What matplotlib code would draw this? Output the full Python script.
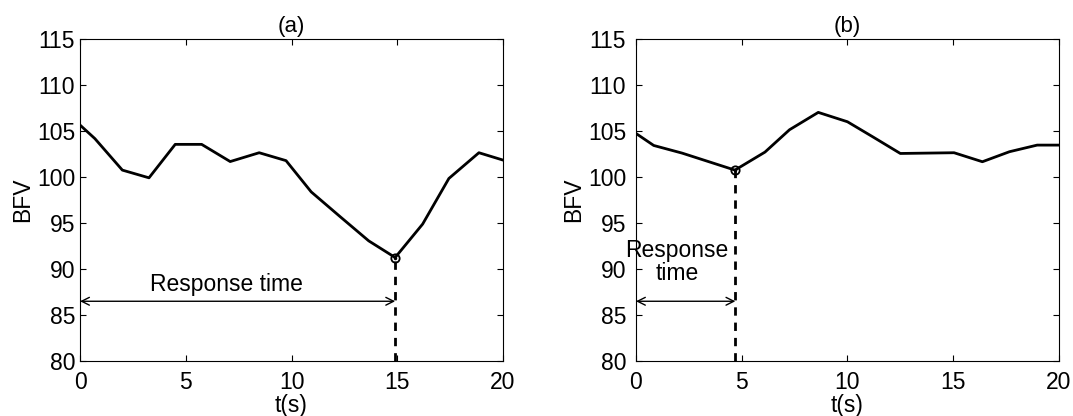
import matplotlib
matplotlib.use("Agg")
import matplotlib.pyplot as plt

plt.rcParams['font.family'] = ['Liberation Sans', 'DejaVu Sans']

# panel (a) data
t_a = [0, 0.7, 2.0, 3.26, 4.5, 5.75, 7.1, 8.47, 9.74, 10.93, 12.3, 13.65, 14.9,
       16.2, 17.44, 18.86, 20]
bfv_a = [105.67, 104.2, 100.77, 99.93, 103.57, 103.57, 101.7, 102.66, 101.8, 98.4,
         95.7, 93.07, 91.26, 94.9, 99.86, 102.66, 101.86]
resp_a = 14.9
resp_val_a = 91.26

# panel (b) data
t_b = [0, 0.84, 2.18, 4.68, 6.1, 7.26, 8.62, 10.0, 11.19, 12.5, 15.04, 16.38,
       17.66, 18.97, 20]
bfv_b = [104.76, 103.45, 102.62, 100.77, 102.73, 105.16, 107.05, 106.03, 104.4,
         102.58, 102.66, 101.68, 102.77, 103.49, 103.49]
resp_b = 4.7
resp_val_b = 100.8

arrow_y = 86.5

fig = plt.figure(figsize=(10.73, 4.16), dpi=100)
ax1 = fig.add_axes([0.0746, 0.1322, 0.3942, 0.7733])
ax2 = fig.add_axes([0.5927, 0.1322, 0.3942, 0.7733])


def draw_panel(ax, t, v, rt, rv, title, ypad):
    ax.plot(t, v, color='black', lw=2)
    ax.plot([rt, rt], [80, rv], color='black', lw=2, ls=(0, (3, 2.5)))
    ax.plot([rt], [rv], marker='o', ms=6, mfc='none', mec='black', mew=1.3)
    ax.plot([rt], [rv], marker='.', ms=3, color='black')
    ax.annotate('', xy=(rt, arrow_y), xytext=(0, arrow_y),
                arrowprops=dict(arrowstyle='<->', color='black', lw=1,
                                shrinkA=0, shrinkB=0, mutation_scale=14))
    ax.set_xlim(0, 20)
    ax.set_ylim(80, 115)
    ax.set_xticks([0, 5, 10, 15, 20])
    ax.set_yticks(range(80, 116, 5))
    ax.tick_params(direction='in', top=True, right=True, labelsize=16.5, length=4)
    ax.tick_params(axis='x', pad=7)
    ax.tick_params(axis='y', pad=ypad)
    ax.set_xlabel('t(s)', fontsize=16.5, labelpad=0)
    ax.set_ylabel('BFV', fontsize=16.5, labelpad=2)
    ax.set_title(title, fontsize=16, pad=5)
    for s in ax.spines.values():
        s.set_linewidth(0.8)


draw_panel(ax1, t_a, bfv_a, resp_a, resp_val_a, '(a)', 3.5)
draw_panel(ax2, t_b, bfv_b, resp_b, resp_val_b, '(b)', 7)

ax1.text(6.9, 88.3, 'Response time', fontsize=16.5, ha='center', va='center')
ax2.text(1.93, 90.8, 'Response\ntime', fontsize=16.5, ha='center', va='center',
         linespacing=1.0, clip_on=False)

fig.savefig('out.png', dpi=100)
